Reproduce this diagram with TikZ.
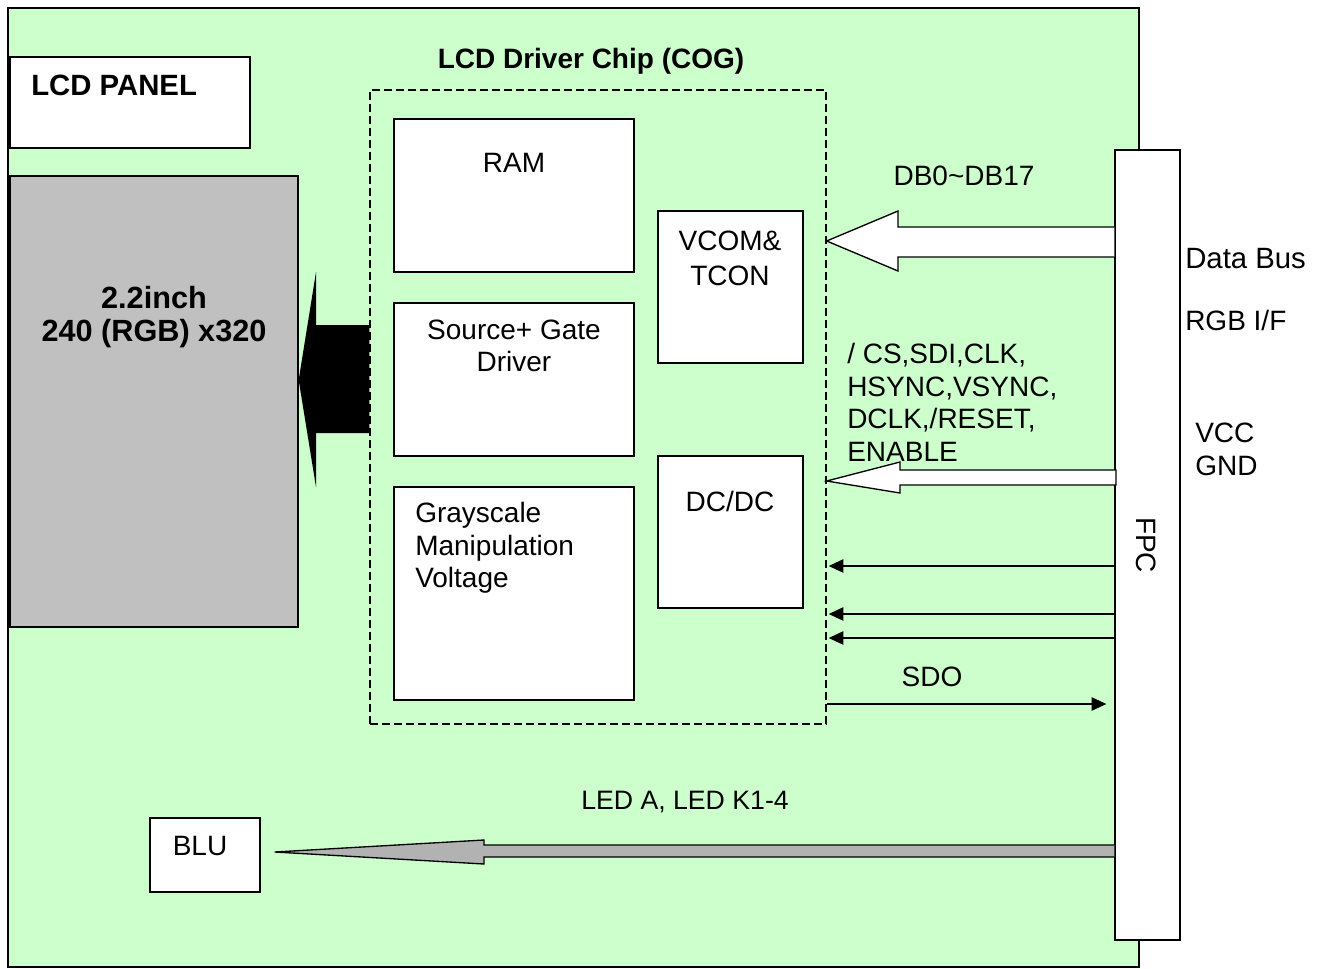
\documentclass[tikz,border=0pt]{standalone}
\usepackage{fontspec}
\setmainfont{Liberation Sans}
\usetikzlibrary{arrows.meta, positioning, calc, fit}

\definecolor{boardgreen}{HTML}{CCFFCC}
\definecolor{panelgray}{HTML}{C0C0C0}
\definecolor{ledgray}{HTML}{B2B2B2}

\tikzset{
  box/.style={draw, fill=white, line width=1pt, inner sep=0pt},
  lbl/.style={font=\fontsize{21}{24.4}\selectfont, inner sep=0pt},
  bold/.style={lbl, font=\fontsize{21}{24.4}\selectfont\bfseries},
  sig/.style={line width=1pt, -{Triangle[length=11pt,width=10pt]}},
  blockarr/.style={draw, line width=1pt, line join=miter},
}

\begin{document}
\begin{tikzpicture}[x=0.75pt, y=-0.75pt]
\useasboundingbox (0,0) rectangle (1321,968);

% board and panel
\node[box, fill=boardgreen, line width=1.2pt, fit={(8,8) (1139,967)}] (board) {};
\node[box, fit={(10,57) (250,148)}] (lcdp) {};
\node[box, fill=panelgray, fit={(10,176) (298,627)}] (panel) {};
\node[box, fit={(150,818) (260,892)}] (blu) {};

% driver chip
\node[draw, line width=1pt, dash pattern=on 6pt off 3pt, inner sep=0pt,
      fit={(370,90) (826,724)}] (chip) {};
\node[box, fit={(394,119) (634,272)}] (ram) {};
\node[box, fit={(394,303) (634,456)}] (drv) {};
\node[box, fit={(394,487) (634,700)}] (gray) {};
\node[box, fit={(658,211) (803,363)}] (vcom) {};
\node[box, fit={(658,456) (803,608)}] (dcdc) {};

% FPC
\node[box, fit={(1115,150) (1180,940)}] (fpc) {};

% block arrows
\fill (chip.west |- 0,325) -- (316,325) -- (316,272) -- (panel.east |- 0,380)
  -- (316,487) -- (316,433) -- (chip.west |- 0,433) -- cycle;
\filldraw[blockarr, fill=white] (fpc.west |- 0,227) -- (898,227) -- (898,211)
  -- (chip.east |- 0,241) -- (898,271) -- (898,257) -- (fpc.west |- 0,257);
\filldraw[blockarr, fill=white] (1116,470) -- (900,470) -- (900,462)
  -- (chip.east |- 0,481) -- (900,493) -- (900,485) -- (1116,485) -- cycle;
\filldraw[blockarr, fill=ledgray] (fpc.west |- 0,845) -- (484,845) -- (484,840)
  -- ($(blu.east |- 0,852)+(14,0)$) -- (484,864) -- (484,857) -- (fpc.west |- 0,857);

% signal lines
\foreach \yy in {566,614,638} {
  \draw[sig] (fpc.west |- 0,\yy) -- ($(chip.east |- 0,\yy)+(2,0)$);
}
\draw[sig, shorten >=6pt] (chip.east |- 0,704) -- (fpc.west |- 0,704);

% texts
\node[bold, anchor=west, font=\fontsize{22}{25}\selectfont\bfseries] (lcdptxt) at (31,85) {LCD PANEL};
\node[bold, align=center, font=\fontsize{23}{24.8}\selectfont\bfseries] (paneltxt) at (154,317) {2.2inch\\240 (RGB) x320};
\node[bold] (chiptxt) at (591,61) {LCD Driver Chip (COG)};
\node[lbl] (ramtxt) at (514,163) {RAM};
\node[lbl, align=center] (drvtxt) at (514,346) {Source+ Gate\\Driver};
\node[lbl, align=left, anchor=north west] (graytxt) at (415,502) {Grayscale\\Manipulation\\Voltage};
\node[lbl, align=center, font=\fontsize{21}{26.3}\selectfont] (vcomtxt) at (730,258) {VCOM\&\\TCON};
\node[lbl] (dcdctxt) at (730,501) {DC/DC};
\node[lbl] (dbtxt) at (964,176) {DB0\textasciitilde DB17};
\node[lbl, align=left, anchor=north west] (sigtxt) at (847,343) {/ CS,SDI,CLK,\\HSYNC,VSYNC,\\DCLK,/RESET,\\ENABLE};
\node[lbl] (sdotxt) at (932,677) {SDO};
\node[lbl, font=\fontsize{20}{24}\selectfont] (ledtxt) at (685,802) {LED A, LED K1-4};
\node[lbl] (blutxt) at (200,846) {BLU};
\node[lbl, anchor=west, font=\fontsize{22}{24}\selectfont] (bustxt) at (1185,259) {Data Bus};
\node[lbl, anchor=west] (rgbtxt) at (1185,320) {RGB I/F};
\node[lbl, anchor=west] (vcctxt) at (1195,433) {VCC};
\node[lbl, anchor=west] (gndtxt) at (1195,466) {GND};
\node[lbl, rotate=-90] (fpctxt) at (1146,545) {FPC};
\end{tikzpicture}
\end{document}
